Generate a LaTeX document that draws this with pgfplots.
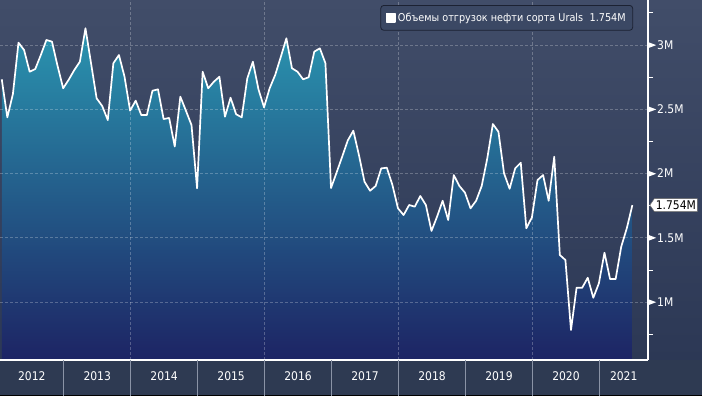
\documentclass[border=0pt]{standalone}
\usepackage{pgfplots}
\pgfplotsset{compat=1.18}
\usepackage{pgfplotstable}
\usetikzlibrary{shapes.symbols}
\usepackage{fontspec}
\setmainfont{DejaVu Sans Condensed}
\definecolor{bgtop}{HTML}{414D69}
\definecolor{bgbot}{HTML}{2C3855}
\definecolor{strip}{HTML}{2E3A52}
\definecolor{filltop}{HTML}{2A95B0}
\definecolor{fillbot}{HTML}{1D2464}
\definecolor{sepc}{HTML}{8A93A6}
\definecolor{legfill}{HTML}{3B4864}
\definecolor{legdraw}{HTML}{1C2233}

\pgfplotstableread{
i v
0 2.733
1 2.437
2 2.619
3 3.018
4 2.961
5 2.792
6 2.813
7 2.922
8 3.039
9 3.026
10 2.837
11 2.663
12 2.730
13 2.805
14 2.870
15 3.130
16 2.858
17 2.585
18 2.525
19 2.416
20 2.858
21 2.922
22 2.753
23 2.489
24 2.567
25 2.455
26 2.455
27 2.644
28 2.655
29 2.424
30 2.432
31 2.210
32 2.598
33 2.489
34 2.377
35 1.885
36 2.792
37 2.663
38 2.714
39 2.753
40 2.442
41 2.590
42 2.461
43 2.437
44 2.741
45 2.870
46 2.655
47 2.515
48 2.663
49 2.767
50 2.907
51 3.052
52 2.819
53 2.792
54 2.733
55 2.749
56 2.948
57 2.974
58 2.858
59 1.887
60 2.008
61 2.131
62 2.257
63 2.333
64 2.144
65 1.936
66 1.866
67 1.903
68 2.040
69 2.045
70 1.911
71 1.729
72 1.677
73 1.755
74 1.742
75 1.825
76 1.755
77 1.553
78 1.664
79 1.788
80 1.638
81 1.988
82 1.903
83 1.851
84 1.729
85 1.788
86 1.903
87 2.118
88 2.385
89 2.325
90 2.002
91 1.881
92 2.040
93 2.084
94 1.574
95 1.659
96 1.949
97 1.988
98 1.788
99 2.131
100 1.366
101 1.327
102 0.782
103 1.111
104 1.111
105 1.189
106 1.033
107 1.146
108 1.384
109 1.179
110 1.179
111 1.430
112 1.574
113 1.754
}\urals

\newcommand\tri{\tikz[baseline=-4.2bp]\fill[white] (0bp,-3bp) -- (8bp,0bp) -- (0bp,3bp) -- cycle;}

\begin{document}
\begin{tikzpicture}
\shade[top color=bgtop, bottom color=bgbot] (0bp,0bp) rectangle (702bp,360bp);
\fill[strip] (0bp,-36bp) rectangle (702bp,0bp);
\fill[black] (0bp,-36bp) rectangle (702bp,-34.5bp);
\begin{axis}[
  at={(0bp,0bp)}, anchor=south west,
  scale only axis, width=648bp, height=360bp,
  xmin=-0.314, xmax=115.8,
  ymin=0.549, ymax=3.35,
  axis x line=bottom, axis y line=right,
  axis line style={-, white, line width=1.2bp},
  axis on top,
  xtick={5.39,17.1,29.1,41.1,53.1,65.1,77.1,89.1,101.1,111.45},
  xticklabels={2012,2013,2014,2015,2016,2017,2018,2019,2020,2021},
  minor xtick={23.1,47.1,71.1,95.1},
  xminorgrids=true,
  ytick={1,1.5,2,2.5,3},
  yticklabels={{\tri\hspace{1bp}1M},{\tri\hspace{1bp}1.5M},{\tri\hspace{1bp}2M},{\tri\hspace{1bp}2.5M},{\tri\hspace{1bp}3M}},
  minor ytick={0.75,1.25,1.75,2.25,2.75,3.25},
  ymajorgrids=true,
  major tick length=0pt,
  minor tick length=5bp,
  tick align=outside,
  tick style={white, line width=0.8bp},
  grid style={white, opacity=0.25, dash pattern=on 2.5bp off 2.5bp, line width=0.6bp},
  minor grid style={white, opacity=0.25, dash pattern=on 2.5bp off 2.5bp, line width=0.6bp},
  major grid style={white, opacity=0.25, dash pattern=on 2.5bp off 2.5bp, line width=0.6bp},
  ticklabel style={text=white, font=\fontsize{12}{14}\selectfont},
  xticklabel style={anchor=center, yshift=-16bp},
  yticklabel style={anchor=west, inner sep=0pt},
  extra x ticks={11.1,23.1,35.1,47.1,59.1,71.1,83.1,95.1,107.1},
  extra x tick labels={},
  extra x tick style={major tick length=36bp, tick align=outside, xminorgrids=false, tick style={sepc, line width=0.6bp}},
  legend style={at={(0.977,0.986)}, anchor=north east, fill=legfill, draw=legdraw,
    rounded corners=3bp, text=white, font=\fontsize{10.8}{12}\selectfont,
    inner xsep=5bp, inner ysep=5.5bp, line width=0.8bp},
  legend cell align=left,
  legend image code/.code={\fill[white, sharp corners] (0bp,-4bp) rectangle (8.5bp,4.5bp);},
]
\addplot[draw=none, top color=filltop, bottom color=fillbot, forget plot] table[x=i, y=v] {\urals} \closedcycle;
\addplot[white, line width=1.7bp, line join=round] table[x=i, y=v] {\urals};
\addlegendentry{Объемы отгрузок нефти сорта Urals\hspace{0.6em}1.754M}
\coordinate (val) at (axis cs:115.8,1.754);
\end{axis}
\node[signal, signal to=west, signal pointer angle=110, fill=white, draw=black!60, line width=0.5bp,
  inner xsep=1.5bp, inner ysep=2bp, text=black, font=\fontsize{12}{14}\selectfont, anchor=west]
  at ([xshift=1.5bp]val) {1.754M};
\pgfresetboundingbox
\path[use as bounding box] (0bp,-36bp) rectangle (702bp,360bp);
\end{tikzpicture}
\end{document}
